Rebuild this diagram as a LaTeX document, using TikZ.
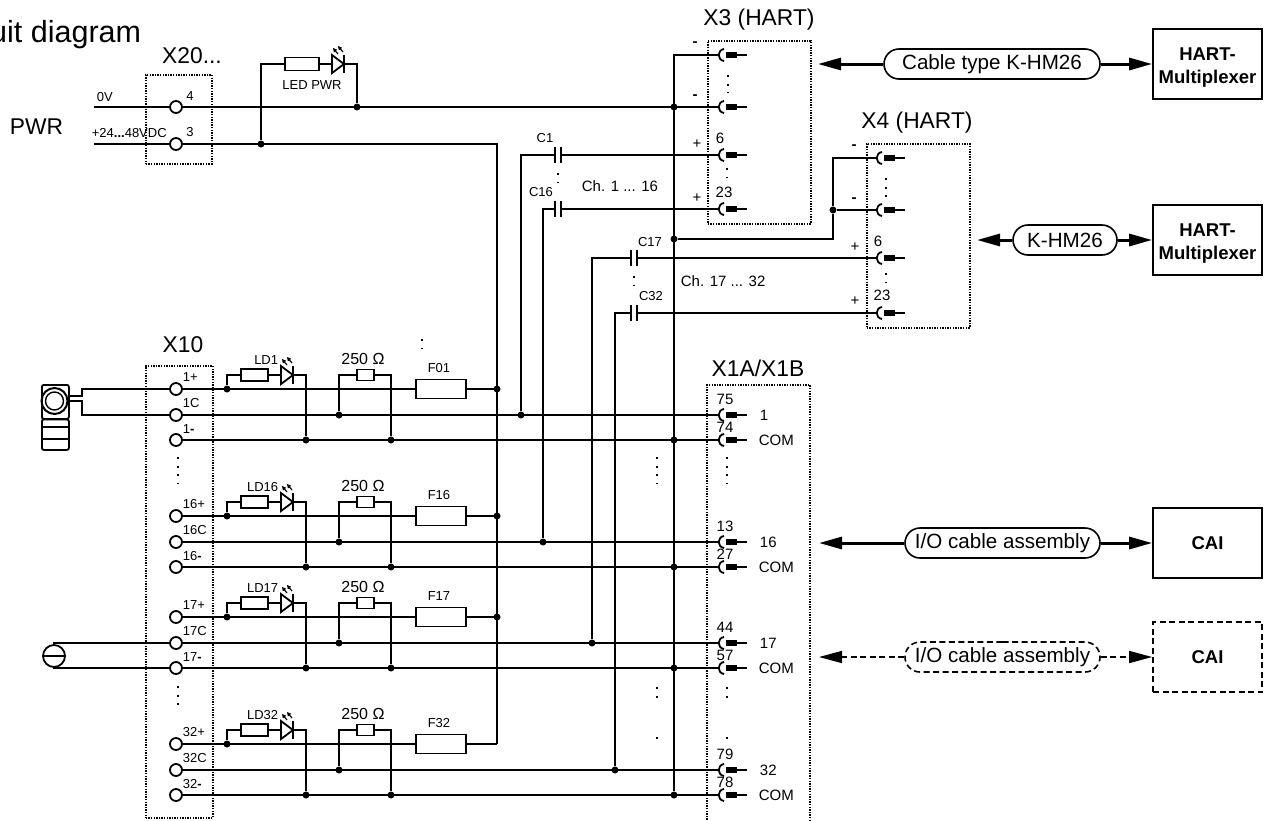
\documentclass[tikz,border=0pt]{standalone}
\usepackage{fontspec}
\setmainfont{Liberation Sans}
\usetikzlibrary{arrows.meta,shapes.misc}

\tikzstyle{lab}=[font=\fontsize{13}{13}\selectfont, inner sep=0]
\tikzstyle{mid}=[font=\fontsize{15}{15}\selectfont, inner sep=0]
\tikzstyle{ohm}=[font=\fontsize{16}{16}\selectfont, inner sep=0]
\tikzstyle{title}=[font=\fontsize{22.8}{23}\selectfont, inner sep=0]
\tikzstyle{term}=[draw, circle, fill=white, minimum size=12, inner sep=0]
\tikzstyle{dot}=[circle, fill=black, minimum size=7, inner sep=0]
\tikzstyle{res}=[draw, fill=white, inner sep=0]
\tikzstyle{fuse}=[draw, fill=white, inner sep=0, minimum width=50, minimum height=19]
\tikzstyle{conn}=[draw, line width=1.7, dash pattern=on 1.4pt off 1.2pt]
\tikzstyle{dotsv}=[line width=1.9, dash pattern=on 1.9pt off 6.8pt]
\tikzstyle{pill}=[draw, rounded rectangle, line width=1.6, minimum height=30, inner sep=0,
  font=\fontsize{20.6}{21}\selectfont]
\tikzstyle{cable}=[line width=3, -{Triangle[length=23pt,width=12pt]}]
\tikzstyle{cabled}=[line width=1.5, dash pattern=on 6pt off 3.5pt, -{Triangle[length=23pt,width=12pt]}]
\tikzstyle{device}=[draw, line width=1.7, minimum width=109, minimum height=70, inner sep=0,
  align=center, font=\fontsize{18.5}{23}\selectfont\bfseries]

\tikzset{
  led/.pic={
    \coordinate (-in) at (0,0); \coordinate (-out) at (12,0);
    \draw[fill=white] (0,-9) -- (12,0) -- (0,9) -- cycle;
    \draw (12,-9) -- (12,9);
    \draw[line width=1.2, -{Triangle[length=4pt,width=4pt]}] (6,-10) -- (1,-16);
    \draw[line width=1.2, -{Triangle[length=4pt,width=4pt]}] (11,-12) -- (6,-18);
  },
  capacitor/.pic={
    \coordinate (-in) at (0,0); \coordinate (-out) at (6,0);
    \draw[line width=2] (0,-8) -- (0,8);
    \draw[line width=2] (6,-8) -- (6,8);
  },
  socket/.pic={
    \draw (6,-6) .. controls (-1,-5) and (-1,5) .. (6,6);
    \fill (8,-2.7) rectangle (19,2.7);
    \draw (19,0) -- (29,0);
  }
}

% one group of three terminals: number, y, fuse label, X1 pins
\newcommand{\channel}[5]{
  \draw (176,#2) node[term](t#1p){};
  \draw (176,#2+26) node[term](t#1c){};
  \draw (176,#2+51) node[term](t#1m){};
  \draw (182,#2-12) node[lab,anchor=west](l#1p){#1+};
  \draw (182,#2+14) node[lab,anchor=west](l#1c){#1C};
  \draw (182,#2+40) node[lab,anchor=west](l#1m){#1\textbf{-}};
  %
  \draw (227,#2) node[dot](da#1){};
  \draw (339,#2+26) node[dot](dc#1){};
  \draw (306,#2+51) node[dot](dl#1){};
  \draw (391,#2+51) node[dot](dr#1){};
  \draw (674,#2+51) node[dot](dv#1){};
  \coordinate (b#1) at (497,#2);
  %
  \draw (254.5,#2-14) node[res,minimum width=27,minimum height=12.5](ra#1){};
  \pic (led#1) at (281,#2-14) {led};
  \draw (279,#2-29) node[lab,anchor=east](ld#1){LD#1};
  \draw (da#1) |- (ra#1.west);
  \draw (ra#1.east) -- (led#1-in);
  \draw (led#1-out) -| (dl#1);
  %
  \draw (365.5,#2-14) node[res,minimum width=17,minimum height=11](rb#1){};
  \draw (363,#2-30) node[ohm](o#1){250 Ω};
  \draw (dc#1) |- (rb#1.west);
  \draw (rb#1.east) -| (dr#1);
  %
  \draw (441,#2) node[fuse](f#1){};
  \draw (439,#2-21) node[lab](fl#1){#3};
  \draw (t#1p) -- (f#1); \draw (f#1) -- (b#1);
  %
  \coordinate (xc#1) at (719,#2+26); \coordinate (xm#1) at (719,#2+51);
  \pic at (718,#2+26) {socket};
  \pic at (718,#2+51) {socket};
  \draw (t#1c) -- (xc#1); \draw (t#1m) -- (xm#1);
  \draw (725,#2+10) node[mid](pc#1){#4};
  \draw (725,#2+38.5) node[mid](pm#1){#5};
  \draw (759,#2+26) node[mid,anchor=west](sc#1){#1};
  \draw (758,#2+51) node[mid,anchor=west](sm#1){COM};
}

\begin{document}
\begin{tikzpicture}[x=1pt,y=-1pt,line width=1.8]
\useasboundingbox (0,0) rectangle (1271,820);
\draw (142,42) node[anchor=base east,inner sep=0,font=\fontsize{30.5}{31}\selectfont](head){uit diagram};
%
\draw (145,74) node[conn,anchor=north west,minimum width=66,minimum height=89](x20){};
\draw (192,56) node[title](x20l){X20...};
\draw (9,127) node[title,anchor=west](pwr){PWR};
\draw (176,107) node[term](t4){};
\draw (176,144) node[term](t3){};
\draw (190,96) node[lab](t4l){4};
\draw (190,132) node[lab](t3l){3};
\draw (96,97) node[lab,anchor=west](v0){0V};
\draw (91,133) node[lab,anchor=west](v24){+24\textbf{...}48VDC};
\coordinate (in4) at (94,107); \coordinate (in3) at (94,144);
\draw (in4) -- (t4); \draw (in3) -- (t3);
%
\draw (261,144) node[dot](dp3){};
\draw (357,107) node[dot](dp4){};
\draw (302,64) node[res,minimum width=34,minimum height=13](rp){};
\pic (ledp) at (332,64) {led};
\draw (312,85) node[lab](ledl){LED PWR};
\draw (dp3) |- (rp.west); \draw (rp.east) -- (ledp-in); \draw (ledp-out) -| (dp4);
%
\draw (183,345) node[title](x10l){X10};
\draw (145,365) node[conn,anchor=north west,minimum width=67,minimum height=452](x10){};
\draw[dotsv] (178,457) -- (178,484);
\draw[dotsv] (178,686) -- (178,712);
\draw[dotsv] (422,339) -- (422,349);
%
\channel{1}{389}{F01}{75}{74}
\channel{16}{516}{F16}{13}{27}
\channel{17}{617}{F17}{44}{57}
\channel{32}{744}{F32}{79}{78}
%
\draw (497,389) node[dot](b1d){};
\draw (497,516) node[dot](b16d){};
\draw (497,617) node[dot](b17d){};
\draw (t3) -| (b32);
%
\draw[conn] (707,825) -- (707,385) -- (810,385) -- (810,825);
\draw (758,368) node[title](x1l){X1A/X1B};
\draw[dotsv] (657,457) -- (657,484); \draw[dotsv] (727,457) -- (727,484);
\draw[dotsv] (657,687) -- (657,704); \draw[dotsv] (727,687) -- (727,704);
\draw[dotsv] (657,737) -- ++(0,1.9); \draw[dotsv] (727,737) -- ++(0,1.9);
%
\draw (707,40) node[conn,anchor=north west,minimum width=103,minimum height=183](x3){};
\draw (759,20) node[title](x3l){X3 (HART)};
\coordinate (x3a) at (719,55); \coordinate (x3b) at (719,107);
\coordinate (x3c) at (719,155); \coordinate (x3d) at (719,209);
\pic at (718,55) {socket}; \pic at (718,107) {socket};
\pic at (718,155) {socket}; \pic at (718,209) {socket};
\draw (695,44) node[mid](x3am){\textbf{-}}; \draw (695,97) node[mid](x3bm){\textbf{-}};
\draw (697,144) node[mid](x3cp){+}; \draw (697,198) node[mid](x3dp){+};
\draw (720,138) node[mid](x3cl){6}; \draw (724,192) node[mid](x3dl){23};
\draw[dotsv] (728,75) -- (728,93); \draw[dotsv] (727,168) -- (727,178);
\draw (674,107) node[dot](dv4){};
\draw (t4) -- (x3b);
\draw (x3a) -| (dv32);
%
\draw (866,143) node[conn,anchor=north west,minimum width=103,minimum height=184](x4){};
\draw (917,123) node[title](x4l){X4 (HART)};
\coordinate (x4a) at (877,158); \coordinate (x4b) at (877,210);
\coordinate (x4c) at (877,258); \coordinate (x4d) at (877,313);
\pic at (876,158) {socket}; \pic at (876,210) {socket};
\pic at (876,258) {socket}; \pic at (876,313) {socket};
\draw (854,147) node[mid](x4am){\textbf{-}}; \draw (854,200) node[mid](x4bm){\textbf{-}};
\draw (855,247) node[mid](x4cp){+}; \draw (855,301) node[mid](x4dp){+};
\draw (878,241) node[mid](x4cl){6}; \draw (882,295) node[mid](x4dl){23};
\draw[dotsv] (886,178) -- (886,197); \draw[dotsv] (886,273) -- (886,283);
\draw (674,239) node[dot](dvx){};
\draw (833,210) node[dot](dx4){};
\draw (dvx) -| (dx4); \draw (dx4) |- (x4a); \draw (dx4) -- (x4b);
%
\draw (521,415) node[dot](dc1x){};
\draw (543,542) node[dot](dc16x){};
\draw (592,643) node[dot](dc17x){};
\draw (615,770) node[dot](dc32x){};
\pic (c1) at (555,155) {capacitor};
\pic (c16) at (555,209) {capacitor};
\pic (c17) at (631,258) {capacitor};
\pic (c32) at (631,313) {capacitor};
\draw (dc1x) |- (c1-in); \draw (c1-out) -- (x3c);
\draw (dc16x) |- (c16-in); \draw (c16-out) -- (x3d);
\draw (dc17x) |- (c17-in); \draw (c17-out) -- (x4c);
\draw (dc32x) |- (c32-in); \draw (c32-out) -- (x4d);
\draw (545,138) node[lab](c1l){C1};
\draw (541,192) node[lab](c16l){C16};
\draw (650,242) node[lab](c17l){C17};
\draw (651,296) node[lab](c32l){C32};
\draw[dotsv] (558,173) -- (558,183);
\draw[dotsv] (634,276) -- (634,286);
\draw (581,186) node[mid,anchor=west](ch1){Ch. 1 ... 16};
\draw (680,281) node[mid,anchor=west](ch17){Ch. 17 ... 32};
%
\draw (41,384) node[draw,rounded corners=2,anchor=north west,minimum width=27,minimum height=34,inner sep=0](txh){};
\draw (54.5,401) node[draw,circle,line width=2,minimum size=26,inner sep=0](txo){};
\draw (54.5,401) node[draw,circle,line width=1.4,minimum size=18,inner sep=0](txi){};
\draw (41,418.5) node[draw,rounded corners=2,anchor=north west,minimum width=27,minimum height=30.5,inner sep=0](txb){};
\draw (41,427) -- (68,427); \draw (41,439) -- (68,439);
\coordinate (txa) at (68,396); \coordinate (txc) at (68,401);
\draw (txa) -- ++(14,0) |- (t1p);
\draw (txc) -- ++(14,0) |- (t1c);
%
\draw (54,656) node[draw,circle,minimum size=22,inner sep=0](src){};
\draw[line width=2.5] (src.west) -- (src.east);
\draw (src.north) |- (t17c);
\draw (src.south) |- (t17m);
%
\draw (992,64) node[pill,minimum width=216](cab1){Cable type K-HM26};
\draw (1207.5,64) node[device](hart1){\rule{0pt}{19pt}HART-\\Multiplexer};
\coordinate (tip1) at (818,64);
\draw[cable] (cab1.west) -- (tip1); \draw[cable] (cab1.east) -- (hart1.west);
%
\draw (1065,240) node[pill,minimum width=104](cab2){K-HM26};
\draw (1207.5,240) node[device](hart2){\rule{0pt}{19pt}HART-\\Multiplexer};
\coordinate (tip2) at (977,240);
\draw[cable] (cab2.west) -- (tip2); \draw[cable] (cab2.east) -- (hart2.west);
%
\draw (1002.5,543) node[pill,minimum width=195](cab3){I/O cable assembly};
\draw (1207.5,543) node[device](cai1){CAI};
\coordinate (tip3) at (819,543);
\draw[cable] (cab3.west) -- (tip3); \draw[cable] (cab3.east) -- (cai1.west);
%
\draw (1002.5,657) node[pill,dash pattern=on 6pt off 3.5pt,minimum width=195](cab4){I/O cable assembly};
\draw (1207.5,657) node[device,dash pattern=on 6pt off 3.5pt](cai2){CAI};
\coordinate (tip4) at (819,657);
\draw[cabled] (cab4.west) -- (tip4); \draw[cabled] (cab4.east) -- (cai2.west);
\end{tikzpicture}
\end{document}
